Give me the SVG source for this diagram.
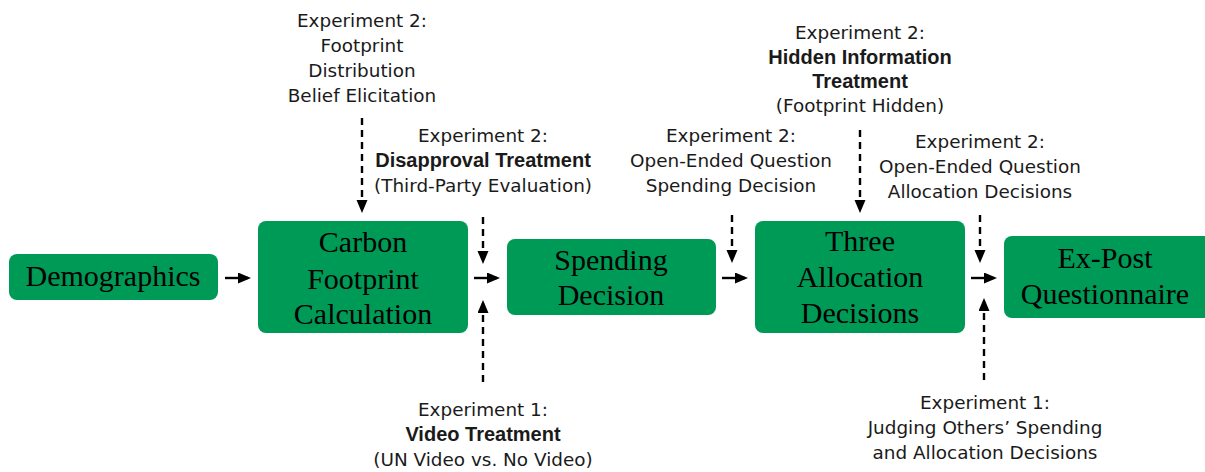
<svg xmlns="http://www.w3.org/2000/svg" width="1205" height="472" viewBox="0 0 1205 472">
<style>
.box{fill:#009A57;}
.nt{font-family:"Liberation Serif","Times New Roman",serif;font-size:30px;fill:#000;text-anchor:middle;}
.lt{font-family:"DejaVu Sans",sans-serif;font-size:18.4px;fill:#1a1a1a;text-anchor:middle;}
.bt{font-family:"Liberation Sans",Arial,sans-serif;font-size:20px;font-weight:bold;}
.c{fill:none;stroke:#000;stroke-width:2.4;}
.d{stroke-dasharray:7 5;}
</style>
<defs>
<marker id="ah" markerUnits="userSpaceOnUse" markerWidth="14" markerHeight="12" refX="10" refY="5.5" orient="auto">
<path d="M0,0 L13,5.5 L0,11 z" fill="#000"/>
</marker>
</defs>
<rect x="0" y="0" width="1205" height="472" fill="#fff"/>

<g id="connectors">
<line class="c" x1="225" y1="278" x2="248" y2="278" marker-end="url(#ah)"/>
<line class="c" x1="474" y1="278" x2="497" y2="278" marker-end="url(#ah)"/>
<line class="c" x1="722" y1="278" x2="745" y2="278" marker-end="url(#ah)"/>
<line class="c" x1="971" y1="278" x2="994" y2="278" marker-end="url(#ah)"/>
<line class="c d" x1="362" y1="118" x2="362" y2="210" marker-end="url(#ah)"/>
<line class="c d" x1="483" y1="217" x2="483" y2="261" marker-end="url(#ah)"/>
<line class="c d" x1="483" y1="382" x2="483" y2="303" marker-end="url(#ah)"/>
<line class="c d" x1="732" y1="215" x2="732" y2="260" marker-end="url(#ah)"/>
<line class="c d" x1="860" y1="130" x2="860" y2="210" marker-end="url(#ah)"/>
<line class="c d" x1="980" y1="215" x2="980" y2="260" marker-end="url(#ah)"/>
<line class="c d" x1="984" y1="380" x2="984" y2="301" marker-end="url(#ah)"/>
</g>

<g id="demographics">
<rect class="box" x="9" y="254" width="209" height="46" rx="8"/>
<text class="nt" x="113" y="286">Demographics</text>
</g>
<g id="carbon">
<rect class="box" x="258" y="221" width="210" height="112" rx="8"/>
<text class="nt" x="363" y="252">Carbon</text>
<text class="nt" x="363" y="289">Footprint</text>
<text class="nt" x="363" y="324">Calculation</text>
</g>
<g id="spending">
<rect class="box" x="507" y="239" width="209" height="76" rx="8"/>
<text class="nt" x="611" y="270">Spending</text>
<text class="nt" x="611" y="305">Decision</text>
</g>
<g id="allocation">
<rect class="box" x="755" y="221" width="210" height="112" rx="8"/>
<text class="nt" x="860" y="251">Three</text>
<text class="nt" x="860" y="287">Allocation</text>
<text class="nt" x="860" y="323">Decisions</text>
</g>
<g id="expost">
<rect class="box" x="1004" y="236" width="214" height="82" rx="8"/>
<text class="nt" x="1105" y="268">Ex-Post</text>
<text class="nt" x="1105" y="304">Questionnaire</text>
</g>

<g id="label-belief">
<text class="lt" x="362" y="27">Experiment 2:</text>
<text class="lt" x="362" y="52">Footprint</text>
<text class="lt" x="362" y="77">Distribution</text>
<text class="lt" x="362" y="102">Belief Elicitation</text>
</g>
<g id="label-disapproval">
<text class="lt" x="483" y="142">Experiment 2:</text>
<text class="lt bt" x="483" y="167">Disapproval Treatment</text>
<text class="lt" x="483" y="192">(Third-Party Evaluation)</text>
</g>
<g id="label-video">
<text class="lt" x="483" y="416">Experiment 1:</text>
<text class="lt bt" x="483" y="441">Video Treatment</text>
<text class="lt" x="483" y="466">(UN Video vs.  No Video)</text>
</g>
<g id="label-open-spending">
<text class="lt" x="731" y="142">Experiment 2:</text>
<text class="lt" x="731" y="167">Open-Ended Question</text>
<text class="lt" x="731" y="192">Spending Decision</text>
</g>
<g id="label-hidden">
<text class="lt" x="860" y="39">Experiment 2:</text>
<text class="lt bt" x="860" y="64">Hidden Information</text>
<text class="lt bt" x="860" y="88">Treatment</text>
<text class="lt" x="860" y="112">(Footprint Hidden)</text>
</g>
<g id="label-open-allocation">
<text class="lt" x="980" y="148">Experiment 2:</text>
<text class="lt" x="980" y="173">Open-Ended Question</text>
<text class="lt" x="980" y="198">Allocation Decisions</text>
</g>
<g id="label-judging">
<text class="lt" x="985" y="409">Experiment 1:</text>
<text class="lt" x="985" y="434">Judging Others’ Spending</text>
<text class="lt" x="985" y="459">and Allocation Decisions</text>
</g>
</svg>
